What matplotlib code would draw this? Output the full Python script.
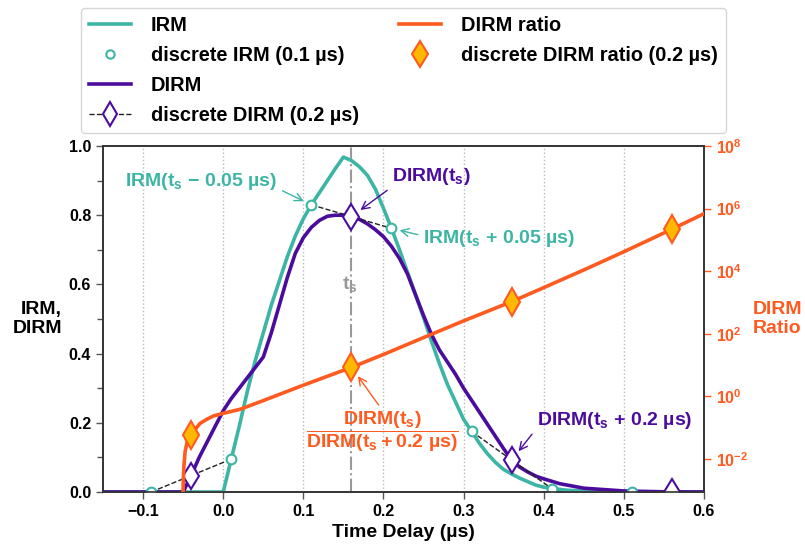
import matplotlib
matplotlib.use('Agg')
import matplotlib.pyplot as plt
from matplotlib.lines import Line2D
import matplotlib.ticker as ticker
import numpy as np

plt.rcParams['font.family'] = ['Liberation Sans', 'DejaVu Sans']
plt.rcParams['font.weight'] = 'bold'
plt.rcParams['axes.labelweight'] = 'bold'
plt.rcParams['mathtext.fontset'] = 'custom'
plt.rcParams['mathtext.rm'] = 'Liberation Sans:bold'
plt.rcParams['mathtext.it'] = 'Liberation Sans:bold'
plt.rcParams['mathtext.bf'] = 'Liberation Sans:bold'
plt.rcParams['mathtext.default'] = 'regular'

teal = '#3db5a5'
purple = '#4b0c9e'
orange = '#ff5a1f'
gold = '#ffb800'

# continuous IRM
irm_t = [-0.15, 0.00, 0.01, 0.02, 0.03, 0.04, 0.05, 0.06, 0.07, 0.08, 0.09, 0.10,
         0.11, 0.12, 0.13, 0.14, 0.15, 0.16, 0.17, 0.18, 0.19, 0.20, 0.21, 0.22,
         0.23, 0.24, 0.25, 0.26, 0.27, 0.28, 0.29, 0.30, 0.31, 0.32, 0.33, 0.34,
         0.35, 0.36, 0.37, 0.38, 0.39, 0.40, 0.41, 0.43, 0.46, 0.50, 0.60]
irm_v = [0, 0, 0.095, 0.19, 0.29, 0.38, 0.46, 0.54, 0.61, 0.68, 0.74, 0.79,
         0.83, 0.865, 0.90, 0.935, 0.968, 0.958, 0.94, 0.915, 0.875, 0.82, 0.762, 0.70,
         0.635, 0.57, 0.505, 0.435, 0.37, 0.31, 0.26, 0.21, 0.175, 0.14, 0.11, 0.085,
         0.065, 0.052, 0.04, 0.03, 0.02, 0.014, 0.01, 0.005, 0.002, 0.0, 0.0]

# continuous DIRM
dirm_t = [-0.15, -0.05, -0.04, -0.03, -0.02, -0.01, 0.00, 0.01, 0.02, 0.03, 0.04, 0.05,
          0.06, 0.07, 0.08, 0.09, 0.10, 0.11, 0.12, 0.13, 0.14, 0.15, 0.16, 0.17,
          0.18, 0.19, 0.20, 0.21, 0.22, 0.23, 0.24, 0.25, 0.26, 0.27, 0.28, 0.29,
          0.30, 0.31, 0.32, 0.33, 0.34, 0.35, 0.36, 0.37, 0.38, 0.39, 0.40, 0.42,
          0.45, 0.50, 0.55, 0.60]
dirm_v = [0, 0, 0.048, 0.10, 0.145, 0.19, 0.235, 0.27, 0.30, 0.33, 0.36, 0.39,
          0.46, 0.54, 0.62, 0.69, 0.735, 0.765, 0.785, 0.797, 0.80, 0.80, 0.796, 0.788,
          0.775, 0.758, 0.738, 0.71, 0.675, 0.63, 0.57, 0.51, 0.455, 0.41, 0.375, 0.34,
          0.30, 0.265, 0.23, 0.195, 0.16, 0.125, 0.092, 0.072, 0.058, 0.046, 0.038, 0.024,
          0.011, 0.003, 0.0005, 0.0]

# continuous DIRM ratio (right, log axis)
ratio_t = [-0.0505, -0.050, -0.049, -0.0475, -0.0445, -0.04, -0.035, -0.029, -0.02,
           -0.012, 0.0, 0.021, 0.05, 0.10, 0.16, 0.20, 0.25, 0.30, 0.36, 0.40,
           0.45, 0.50, 0.56, 0.60]
ratio_v = [1e-4, 1.6e-3, 6.3e-3, 1.8e-2, 4.1e-2, 6.0e-2, 8.9e-2, 0.138, 0.19,
           0.24, 0.29, 0.39, 0.74, 2.3, 8.5, 22, 76, 260, 1070, 3000,
           1.1e4, 4.2e4, 2.2e5, 6.9e5]

# discrete samples
d_irm_t = [-0.09, 0.01, 0.11, 0.21, 0.31, 0.41, 0.51]
d_irm_v = [0.0, 0.095, 0.83, 0.762, 0.175, 0.01, 0.0]
d_dirm_t = [-0.04, 0.16, 0.36, 0.56]
d_dirm_v = [0.0475, 0.796, 0.0925, 0.0]
d_ratio_t = [-0.04, 0.16, 0.36, 0.56]
d_ratio_v = [0.06, 8.65, 1070, 2.2e5]

t_s = 0.16

fig, ax = plt.subplots(figsize=(8.05, 5.44), dpi=100)
fig.subplots_adjust(left=0.128, right=0.8745, top=0.7316, bottom=0.0956)
ax2 = ax.twinx()

ax.grid(axis='x', color='#bbbbbb', linestyle=':', linewidth=1)
ax.axvline(t_s, color='#999999', linestyle='-.', linewidth=1.5, zorder=1)

ax.plot(irm_t, irm_v, color=teal, linewidth=2.6, zorder=3)
ax.plot(dirm_t, dirm_v, color=purple, linewidth=2.6, zorder=3)

# dashed links between the IRM pairs that make each DIRM sample
for i in range(3):
    ax.plot([d_irm_t[2 * i], d_dirm_t[i], d_irm_t[2 * i + 1]],
            [d_irm_v[2 * i], d_dirm_v[i], d_irm_v[2 * i + 1]],
            '--', color='#222222', linewidth=1, zorder=4)
ax.plot(d_irm_t, d_irm_v, 'o', color=teal, markerfacecolor='white',
        markersize=7, markeredgewidth=1.5, zorder=5)
ax.plot(d_dirm_t, d_dirm_v, 'd', color=purple, markerfacecolor='white',
        markersize=13, markeredgewidth=1.5, zorder=5)

ax2.plot(ratio_t, ratio_v, color=orange, linewidth=2.6, zorder=3)
ax2.plot(d_ratio_t, d_ratio_v, 'd', markerfacecolor=gold, markeredgecolor=orange,
         markersize=14, markeredgewidth=1.5, zorder=5)

ax.set_xlim(-0.15, 0.6)
ax.set_ylim(0, 1.0)
ax2.set_yscale('log')
ax2.set_ylim(10 ** -3.05, 1e8)

ax.set_xticks([-0.1, 0.0, 0.1, 0.2, 0.3, 0.4, 0.5, 0.6])
ax.set_xticklabels(['\u22120.1', '0.0', '0.1', '0.2', '0.3', '0.4', '0.5', '0.6'])
ax.set_yticks([0.0, 0.2, 0.4, 0.6, 0.8, 1.0])
ax.yaxis.set_minor_locator(ticker.MultipleLocator(0.1))
ax.tick_params(axis='both', which='major', labelsize=11.5, length=5, width=1, color='#555555')
ax.tick_params(axis='y', which='minor', length=4, width=1, color='#555555')

ax2.yaxis.set_major_locator(ticker.FixedLocator([1e-2, 1, 1e2, 1e4, 1e6, 1e8]))
ax2.yaxis.set_minor_locator(ticker.NullLocator())
ax2.tick_params(axis='y', labelsize=11.5, length=5, width=1, colors=orange)

for a in (ax, ax2):
    for sp in a.spines.values():
        sp.set_color('#333333')
        sp.set_linewidth(1.2)

ax.set_xlabel('Time Delay (\u00b5s)', fontsize=14)
ax.set_ylabel('IRM,\nDIRM', fontsize=14, rotation=0, ha='right', va='center',
              multialignment='right')
ax.yaxis.set_label_coords(-0.068, 0.5)
ax2.set_ylabel('DIRM\nRatio', fontsize=14, rotation=0, ha='left', va='center',
               multialignment='left', color=orange)
ax2.yaxis.set_label_coords(1.081, 0.5)

ax.text(0.1585, 0.60, '$t_s$', color='#999999', fontsize=14, ha='center', va='center')

ax.annotate('IRM($t_s$ \u2212 0.05 \u00b5s)', xy=(0.11, 0.83), xytext=(-0.0275, 0.896),
            color=teal, fontsize=14, ha='center', va='center',
            arrowprops=dict(arrowstyle='->', color=teal, lw=1, relpos=(1.0, 0.2),
                            shrinkA=2, shrinkB=6))
ax.annotate('DIRM($t_s$)', xy=(0.16, 0.796), xytext=(0.26, 0.913),
            color=purple, fontsize=14, ha='center', va='center',
            arrowprops=dict(arrowstyle='->', color=purple, lw=1, relpos=(0.0, 0.0),
                            shrinkA=2, shrinkB=8))
ax.annotate('IRM($t_s$ + 0.05 \u00b5s)', xy=(0.21, 0.762), xytext=(0.3446, 0.734),
            color=teal, fontsize=14, ha='center', va='center',
            arrowprops=dict(arrowstyle='->', color=teal, lw=1, relpos=(0.0, 0.6),
                            shrinkA=2, shrinkB=6))
ax.annotate('DIRM($t_s$ + 0.2 \u00b5s)', xy=(0.36, 0.0925), xytext=(0.488, 0.208),
            color=purple, fontsize=14, ha='center', va='center',
            arrowprops=dict(arrowstyle='->', color=purple, lw=1, relpos=(0.0, 0.1),
                            shrinkA=2, shrinkB=8))
ax2.annotate('$\\dfrac{DIRM(t_s)}{DIRM(t_s + 0.2\\ \u00b5s)}$', xy=(0.16, 8.65),
             xytext=(0.1985, 0.173), textcoords=ax.transData,
             color=orange, fontsize=14, ha='center', va='center',
             arrowprops=dict(arrowstyle='->', color=orange, lw=1, relpos=(0.5, 1.0),
                             shrinkA=2, shrinkB=8))

blank = Line2D([], [], linestyle='none', marker=None)
handles = [
    Line2D([], [], color=teal, linewidth=2.6),
    Line2D([], [], linestyle='none', marker='o', color=teal, markerfacecolor='white',
           markersize=6, markeredgewidth=1.5),
    Line2D([], [], color=purple, linewidth=2.6),
    Line2D([], [], linestyle='--', color='#222222', linewidth=1, marker='d',
           markeredgecolor=purple, markerfacecolor='white', markersize=12,
           markeredgewidth=1.5),
    Line2D([], [], color=orange, linewidth=2.6),
    Line2D([], [], linestyle='none', marker='d', markerfacecolor=gold,
           markeredgecolor=orange, markersize=13, markeredgewidth=1.5),
    blank, blank,
]
labels = ['IRM', 'discrete IRM (0.1 \u00b5s)', 'DIRM', 'discrete DIRM (0.2 \u00b5s)',
          'DIRM ratio', 'discrete DIRM ratio (0.2 \u00b5s)', '', '']
ax.legend(handles, labels, loc='lower center', bbox_to_anchor=(0.5, 1.0376), ncol=2,
          fontsize=14.4, frameon=True, edgecolor='#cccccc', fancybox=True,
          borderaxespad=0, handlelength=2.1, handletextpad=1.0,
          columnspacing=2.0, labelspacing=0.55)

fig.savefig('out.png', dpi=100)
